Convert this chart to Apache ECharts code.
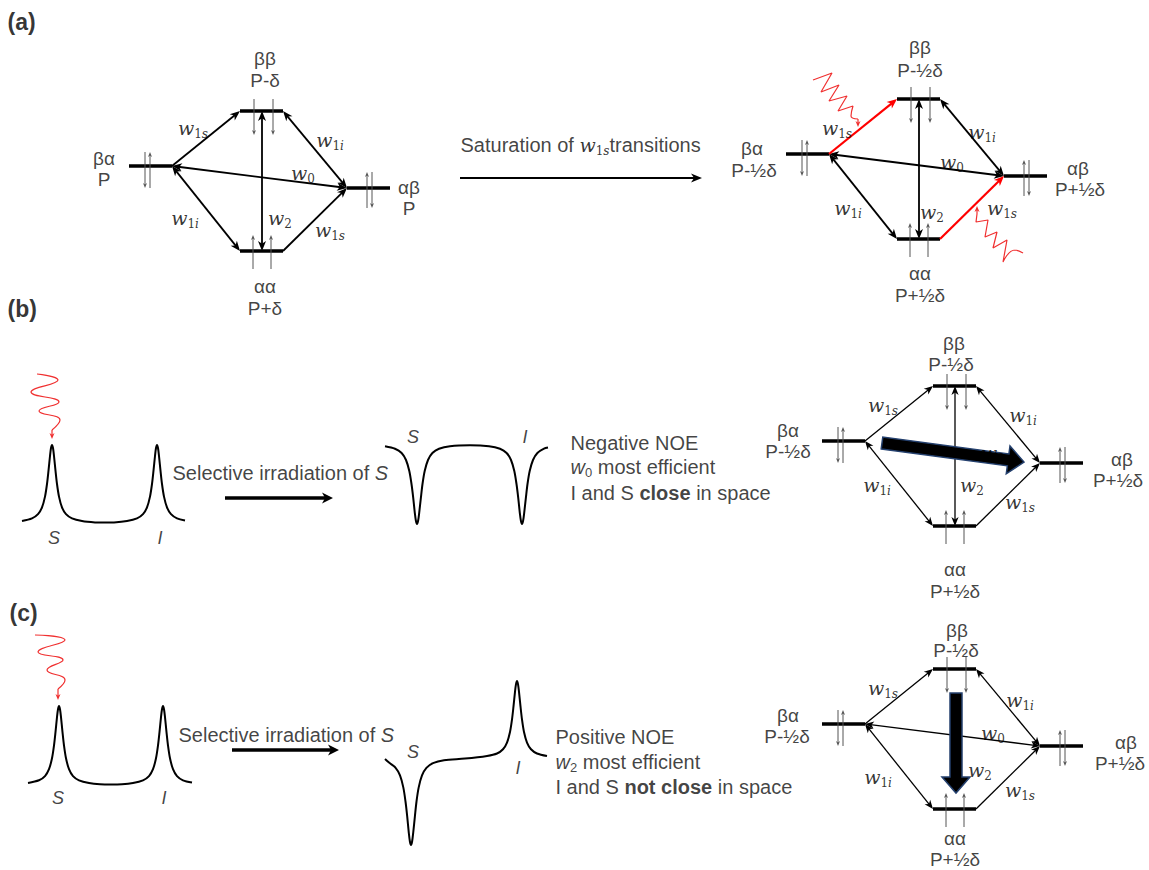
<!DOCTYPE html>
<html><head><meta charset="utf-8">
<script src="https://cdn.jsdelivr.net/npm/echarts@6.0.0/dist/echarts.min.js"></script>
<style>html,body{margin:0;padding:0;background:#fff}#c{width:1149px;height:870px}</style>
</head><body><div id="c"></div>
<script>
// ================= DATA =================
const diagramNames = ['aL', 'aR', 'b', 'c'];
const diagramOrigins = [[240, 111], [897, 99], [933, 386], [933, 669]];
const anchorNames = ['bbL', 'bbR', 'bbC', 'baL', 'baR', 'abL', 'abR', 'aaL', 'aaR', 'aaC'];
const anchorOffsets = [[0, 0], [43, 0], [22, 0], [-111, 55], [-68, 55], [107, 77], [150, 77], [0, 140], [43, 140], [22, 140]];
const levelPairs = [['bbL', 'bbR'], ['baL', 'baR'], ['abL', 'abR'], ['aaL', 'aaR']];
const transitionNames = ['w1s_up', 'w1i_up', 'w0', 'w2', 'w1i_dn', 'w1s_dn'];
const transitionFrom = ['baR', 'bbR', 'baR', 'bbC', 'baR', 'aaR'];
const transitionTo = ['bbL', 'abL', 'abL', 'aaC', 'aaL', 'abL'];
const transitionHeads = [1, 2, 2, 2, 2, 1];
const transitionSubDigit = ['1', '1', '0', '2', '1', '1'];
const transitionSubLetter = ['s', 'i', '', '', 'i', 's'];
const skipTransitions = [[], [], ['w0'], ['w2']];
const redTransitions = [[], ['w1s_up', 'w1s_dn'], [], []];
const wLabelOffsets = [
  [[-47, 17], [90, 29], [63, 62], [40, 107], [-55, 107], [90, 119]],
  [[-60, 29], [85, 33], [55, 63], [35, 113], [-49, 109], [105, 109]],
  [[-50, 19], [90, 29], [60, 67], [39, 99], [-56, 99], [87, 116]],
  [[-50, 19], [87, 31], [60, 64], [47, 101], [-55, 108], [87, 121]]
];
// spin arrows: [dx, dyStart, dyEnd] (head at end)
const spinOffsets = [[14, -12, 24], [33, -12, 24], [13, 158, 124], [31, 158, 124],
  [-95, 41, 77], [-90, 77, 41], [127, 97, 61], [132, 61, 97]];

const levelLabels = [
  ['ββ', 265, 58], ['P-δ', 265, 80], ['αα', 265, 286], ['P+δ', 265, 308], ['βα', 104, 158], ['P', 104, 179], ['αβ', 409, 187], ['P', 409, 208],
  ['ββ', 920, 47], ['P-½δ', 920, 70], ['αα', 920, 273], ['P+½δ', 920, 295], ['βα', 752, 148], ['P-½δ', 754, 170], ['αβ', 1078, 168], ['P+½δ', 1080, 189],
  ['ββ', 954, 343], ['P-½δ', 951, 364], ['αα', 955, 569], ['P+½δ', 955, 591], ['βα', 788, 430], ['P-½δ', 788, 451], ['αβ', 1122, 459], ['P+½δ', 1118, 480],
  ['ββ', 957, 630], ['P-½δ', 956, 650], ['αα', 955, 838], ['P+½δ', 955, 859], ['βα', 788, 715], ['P-½δ', 787, 736], ['αβ', 1126, 742], ['P+½δ', 1120, 763]
];
const panelLetters = [['(a)', 7, 22], ['(b)', 7, 309], ['(c)', 9, 613]];

const spectrumB_before = [[22,521],[32,518.4],[38,514.2],[42,507.4],[45,496.6],[47,484],[48.5,470.7],[50,456],[51,448],[52,445],[53,448],[54,456],[55.5,470.7],[57,484],[59,496.6],[62,507.4],[66,514.2],[72,518.4],[82,521],[95,522.4],[104,522.6],[114,522.4],[127,521],[137,518.4],[143,514.2],[147,507.4],[150,496.6],[152,484],[153.5,470.7],[155,456],[156,448],[157,445],[158,448],[159,456],[160.5,470.7],[162,484],[164,496.6],[167,507.4],[171,514.2],[177,518.4],[185,520.6]];
const spectrumB_after = [[385,446.2],[395,448.7],[401.6,453],[406,460],[409.3,471],[411.5,484],[413.2,497.6],[414.8,512.8],[415.9,520.8],[417,524],[418.1,520.8],[419.2,512.8],[420.9,497.6],[422.5,484],[424.7,471],[428,460],[432.4,453],[439,448.7],[450,446.2],[470,445.3],[489,446.2],[500,448.7],[506.6,453],[511,460],[514.3,471],[516.5,484],[518.2,497.6],[519.8,512.8],[520.9,520.8],[522,524],[523.1,520.8],[524.2,512.8],[525.9,497.6],[527.5,484],[529.7,471],[533,460],[537.4,453],[544,448.7],[548,447.6]];
const spectrumC_before = [[28,783],[39,780.3],[45,776.1],[49,769.2],[52,758.3],[54,745.5],[55.5,732.1],[57,717.1],[58,709.2],[59,706],[60,709.2],[61,717.1],[62.5,732.1],[64,745.5],[66,758.3],[69,769.2],[73,776.1],[79,780.3],[89,783],[100,784.3],[111,784.6],[122,784.3],[133,783],[143,780.3],[149,776.1],[153,769.2],[156,758.3],[158,745.5],[159.5,732.1],[161,717.1],[162,709.2],[163,706],[164,709.2],[165,717.1],[166.5,732.1],[168,745.5],[170,758.3],[173,769.2],[177,776.1],[183,780.3],[192,782.5]];
const spectrumC_after = [[385,759],[389,762.6],[395.6,767.8],[400,775.4],[403.3,787.4],[405.5,801.5],[407.2,816.3],[408.8,832.8],[409.9,841.5],[411,845],[412.1,841.5],[413.2,832.8],[414.9,816.3],[416.5,801.5],[418.7,787.4],[422,775.4],[426.4,767.8],[433,763.1],[444,760.3],[465,758.6],[487,755.9],[497,753.5],[503,749.3],[507,742.6],[510,732],[512,719.5],[513.5,706.4],[515,691.8],[516,684.1],[517,681],[518,684.1],[519,691.8],[520.5,706.4],[522,719.5],[524,732],[527,742.6],[531,749.3],[537,753.5],[547,756]];

const waveB = [[37,374],[58,380],[31,392],[59,402],[39,411],[60,420],[52,430]];
const waveC = [[35,635],[65,640],[38,652],[63,660],[47,670],[65,680],[58,689]];
const waveAUp = [[813,80],[832,73],[821,92],[839,85],[829,101],[847,96],[838,111],[853,106],[851,116],[858,119]];
const waveADown = [[1023,253],[1015,250],[1003,262],[1007,240],[993,248],[997,232],[985,237],[988,220],[976,222],[977,214]];
const waveHeads = [[52,430,52,439,1],[58,689,58,700,1],[858,119,858,127,1],[977,214,977,206,1]];

const saturationArrow = [[460,178,702,178,1]];
const selectiveArrows = [[225,498,333,498,1],[232,750,339,750,1]];
const bigArrows = [[882,443,1024,462],[956,693,956,793]];

const spectrumLabels = [['S',54,538],['I',160,538],['S',413,437],['I',525,437],['S',58,798],['I',164,798],['S',413,752],['I',518,768]];

// ================= BUILD =================
const levelsArr = [], blackA = [], blackBC = [], redArr = [], spinArr = [], wLabels = [];
diagramNames.forEach(function (d, di) {
  const o = diagramOrigins[di];
  const A = function (name) { const k = anchorNames.indexOf(name); return [o[0] + anchorOffsets[k][0], o[1] + anchorOffsets[k][1]]; };
  levelPairs.forEach(function (p) { const a = A(p[0]), b = A(p[1]); levelsArr.push([a[0], a[1], b[0], b[1], 0]); });
  transitionNames.forEach(function (t, ti) {
    const off = wLabelOffsets[di][ti];
    wLabels.push([o[0] + off[0], o[1] + off[1], transitionSubDigit[ti], transitionSubLetter[ti]]);
    if (skipTransitions[di].indexOf(t) >= 0) return;
    const a = A(transitionFrom[ti]), b = A(transitionTo[ti]);
    const item = [a[0], a[1], b[0], b[1], transitionHeads[ti]];
    if (redTransitions[di].indexOf(t) >= 0) redArr.push(item);
    else if (di < 2) blackA.push(item); else blackBC.push(item);
  });
  spinOffsets.forEach(function (s) { spinArr.push([o[0] + s[0], o[1] + s[1], o[0] + s[0], o[1] + s[2], 1]); });
});

function arrowSeries(data, color, lw, headLen, headHalf, z) {
  return {
    type: 'custom', coordinateSystem: 'cartesian2d', clip: false, silent: true, z: z,
    data: data, encode: { x: [0, 2], y: [1, 3] },
    renderItem: function (params, api) {
      const p1 = api.coord([api.value(0), api.value(1)]);
      const p2 = api.coord([api.value(2), api.value(3)]);
      const heads = api.value(4);
      const dx = p2[0] - p1[0], dy = p2[1] - p1[1], L = Math.hypot(dx, dy), ux = dx / L, uy = dy / L;
      let a = [p1[0], p1[1]], b = [p2[0], p2[1]];
      if (heads >= 1) b = [p2[0] - ux * headLen * 0.6, p2[1] - uy * headLen * 0.6];
      if (heads >= 2) a = [p1[0] + ux * headLen * 0.6, p1[1] + uy * headLen * 0.6];
      const children = [{ type: 'line', shape: { x1: a[0], y1: a[1], x2: b[0], y2: b[1] }, style: { stroke: color, lineWidth: lw } }];
      function head(tip, vx, vy) {
        const bx = tip[0] - vx * headLen, by = tip[1] - vy * headLen, nx = -vy, ny = vx;
        const notch = [tip[0] - vx * headLen * 0.72, tip[1] - vy * headLen * 0.72];
        return { type: 'polygon', shape: { points: [tip, [bx + nx * headHalf, by + ny * headHalf], notch, [bx - nx * headHalf, by - ny * headHalf]] }, style: { fill: color } };
      }
      if (heads >= 1) children.push(head(p2, ux, uy));
      if (heads >= 2) children.push(head(p1, -ux, -uy));
      return { type: 'group', children: children };
    }
  };
}

const bigArrowSeries = {
  type: 'custom', coordinateSystem: 'cartesian2d', clip: false, silent: true, z: 6,
  data: bigArrows, encode: { x: [0, 2], y: [1, 3] },
  renderItem: function (params, api) {
    const p1 = api.coord([api.value(0), api.value(1)]);
    const p2 = api.coord([api.value(2), api.value(3)]);
    const dx = p2[0] - p1[0], dy = p2[1] - p1[1], L = Math.hypot(dx, dy), ux = dx / L, uy = dy / L, nx = -uy, ny = ux;
    const sw = 6, hw = 14, hl = 16;
    const bx = p2[0] - ux * hl, by = p2[1] - uy * hl;
    const pts = [[p1[0] + nx * sw, p1[1] + ny * sw], [bx + nx * sw, by + ny * sw], [bx + nx * hw, by + ny * hw], p2,
      [bx - nx * hw, by - ny * hw], [bx - nx * sw, by - ny * sw], [p1[0] - nx * sw, p1[1] - ny * sw]];
    return { type: 'polygon', shape: { points: pts }, style: { fill: '#000', stroke: '#24406e', lineWidth: 1.5 } };
  }
};

function lineSeries(data, color, width, smooth) {
  return { type: 'line', data: data, showSymbol: false, symbol: 'none', smooth: smooth, silent: true, z: 3,
    lineStyle: { color: color, width: width }, animation: false };
}

const rich = {
  w: { fontFamily: 'DejaVu Serif', fontStyle: 'italic', fontSize: 19, color: '#000', lineHeight: 23 },
  sd: { fontFamily: 'DejaVu Serif', fontSize: 12, color: '#000', lineHeight: 13, verticalAlign: 'bottom' },
  sl: { fontFamily: 'DejaVu Serif', fontStyle: 'italic', fontSize: 12, color: '#000', lineHeight: 13, verticalAlign: 'bottom' },
  t: { fontFamily: 'Liberation Sans', fontSize: 20, color: '#111', lineHeight: 23 },
  ti: { fontFamily: 'Liberation Sans', fontStyle: 'italic', fontSize: 20, color: '#111', lineHeight: 23 },
  tb: { fontFamily: 'Liberation Sans', fontWeight: 'bold', fontSize: 20, color: '#111', lineHeight: 23 },
  ts: { fontFamily: 'Liberation Sans', fontSize: 13, color: '#111', lineHeight: 13, verticalAlign: 'bottom' },
  lv: { fontFamily: 'Liberation Sans', fontSize: 19, color: '#111', lineHeight: 20 },
  sp: { fontFamily: 'Liberation Sans', fontStyle: 'italic', fontSize: 18, color: '#111' },
  pn: { fontFamily: 'Liberation Sans', fontWeight: 'bold', fontSize: 23, color: '#000' }
};

const textItems = [];
function addText(x, y, fmt, pos) { textItems.push({ value: [x, y], label: { formatter: fmt, position: pos || 'inside' } }); }
levelLabels.forEach(function (l) { addText(l[1], l[2], '{lv|' + l[0] + '}'); });
panelLetters.forEach(function (l) { addText(l[1], l[2], '{pn|' + l[0] + '}', 'right'); });
wLabels.forEach(function (l) { addText(l[0], l[1], '{w|w}{sd|' + l[2] + '}' + (l[3] ? '{sl|' + l[3] + '}' : '')); });
spectrumLabels.forEach(function (l) { addText(l[1], l[2], '{sp|' + l[0] + '}'); });
addText(460, 145, '{t|Saturation of }{w|w}{sd|1}{sl|s}{t|transitions}', 'right');
addText(172, 473, '{t|Selective irradiation of }{ti|S}', 'right');
addText(178, 735, '{t|Selective irradiation of }{ti|S}', 'right');
addText(570, 443, '{t|Negative NOE}', 'right');
addText(570, 467, '{ti|w}{ts|0}{t| most efficient}', 'right');
addText(570, 493, '{t|I and S }{tb|close}{t| in space}', 'right');
addText(555, 737, '{t|Positive NOE}', 'right');
addText(555, 762, '{ti|w}{ts|2}{t| most efficient}', 'right');
addText(555, 787, '{t|I and S }{tb|not close}{t| in space}', 'right');

const option = {
  animation: false,
  backgroundColor: '#fff',
  grid: { left: 0, right: 0, top: 0, bottom: 0 },
  xAxis: { type: 'value', min: 0, max: 1149, show: false },
  yAxis: { type: 'value', min: 0, max: 870, inverse: true, show: false },
  series: [
    arrowSeries(levelsArr, '#000', 3.5, 0, 0, 2),
    arrowSeries(blackA, '#000', 1.8, 10, 4, 3),
    arrowSeries(blackBC, '#000', 1.3, 9, 3.6, 3),
    arrowSeries(redArr, '#ff0000', 2.2, 10, 4.2, 3),
    arrowSeries(spinArr, '#555', 1, 5, 2, 4),
    arrowSeries(waveHeads, '#f03030', 1.2, 6, 2.5, 4),
    arrowSeries(saturationArrow, '#000', 2, 11, 4.5, 3),
    arrowSeries(selectiveArrows, '#000', 3.5, 11, 5.5, 3),
    bigArrowSeries,
    lineSeries(spectrumB_before, '#000', 2, 0.3),
    lineSeries(spectrumB_after, '#000', 2, 0.3),
    lineSeries(spectrumC_before, '#000', 2, 0.3),
    lineSeries(spectrumC_after, '#000', 2, 0.3),
    lineSeries(waveB, '#f03030', 1.2, 0.5),
    lineSeries(waveC, '#f03030', 1.2, 0.5),
    lineSeries(waveAUp, '#f03030', 1.2, 0.5),
    lineSeries(waveADown, '#f03030', 1.2, 0.5),
    {
      type: 'scatter', data: textItems, symbol: 'circle', symbolSize: 1, silent: true, z: 10,
      itemStyle: { color: 'rgba(0,0,0,0)' },
      label: { show: true, distance: 0, color: '#000', rich: rich }
    }
  ]
};
const chart = echarts.init(document.getElementById('c'), null, { renderer: 'svg' });
chart.setOption(option);
</script></body></html>
